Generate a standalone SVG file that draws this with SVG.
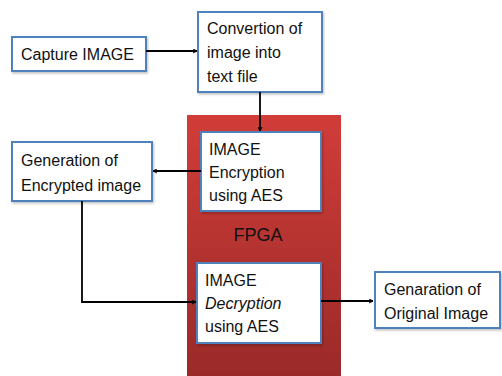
<svg xmlns="http://www.w3.org/2000/svg" width="502" height="376" viewBox="0 0 502 376">
<defs>
<linearGradient id="fpgaGrad" x1="0" y1="0" x2="0" y2="1">
<stop offset="0" stop-color="#d13d39"/>
<stop offset="1" stop-color="#9a2a29"/>
</linearGradient>
<marker id="arr" viewBox="0 0 10 10" refX="9" refY="5" markerWidth="5" markerHeight="5" orient="auto" markerUnits="userSpaceOnUse">
<path d="M1,1 L9,5 L1,9" fill="none" stroke="#000" stroke-width="2"/>
</marker>
<filter id="sh" x="-10%" y="-10%" width="130%" height="130%">
<feDropShadow dx="1" dy="1.5" stdDeviation="1" flood-color="#000" flood-opacity="0.25"/>
</filter>
</defs>
<style>
.box{fill:#fff;stroke:#4f81bd;stroke-width:2;filter:url(#sh)}
.t{font-family:"Liberation Sans",Arial,sans-serif;font-size:16px;fill:#111}
.c{fill:none;stroke:#000;stroke-width:1.8;marker-end:url(#arr)}
</style>
<rect width="502" height="376" fill="#fff"/>
<g id="fpga">
<rect x="187" y="115" width="154" height="261" fill="url(#fpgaGrad)"/>
<text x="258" y="241" text-anchor="middle" style="font-family:'Liberation Sans',Arial,sans-serif;font-size:18px;fill:#111">FPGA</text>
</g>
<g id="capture">
<rect class="box" x="12" y="37" width="134" height="34"/>
<text class="t" x="21" y="60">Capture IMAGE</text>
</g>
<g id="convertion">
<rect class="box" x="198" y="12" width="124" height="80"/>
<text class="t" x="207" y="34">Convertion of</text>
<text class="t" x="207" y="58">image into</text>
<text class="t" x="207" y="82">text file</text>
</g>
<g id="encryption">
<rect class="box" x="201" y="132" width="120" height="79"/>
<text class="t" x="209" y="155">IMAGE</text>
<text class="t" x="209" y="178">Encryption</text>
<text class="t" x="209" y="201">using AES</text>
</g>
<g id="gen-encrypted">
<rect class="box" x="12" y="142" width="140" height="59"/>
<text class="t" x="21" y="166">Generation of</text>
<text class="t" x="21" y="191">Encrypted image</text>
</g>
<g id="decryption">
<rect class="box" x="197" y="263" width="124" height="80"/>
<text class="t" x="205" y="286">IMAGE</text>
<text class="t" x="205" y="309" font-style="italic">Decryption</text>
<text class="t" x="205" y="332">using AES</text>
</g>
<g id="original">
<rect class="box" x="375" y="272" width="125" height="56"/>
<text class="t" x="384" y="295">Genaration of</text>
<text class="t" x="384" y="319">Original Image</text>
</g>
<g id="connectors">
<path class="c" d="M146,51 L197,51"/>
<path class="c" d="M260,92 L260,131"/>
<path class="c" d="M201,171 L153,171"/>
<path class="c" d="M82,201 L82,302 L196,302"/>
<path class="c" d="M321,301 L373,301"/>
</g>
</svg>
